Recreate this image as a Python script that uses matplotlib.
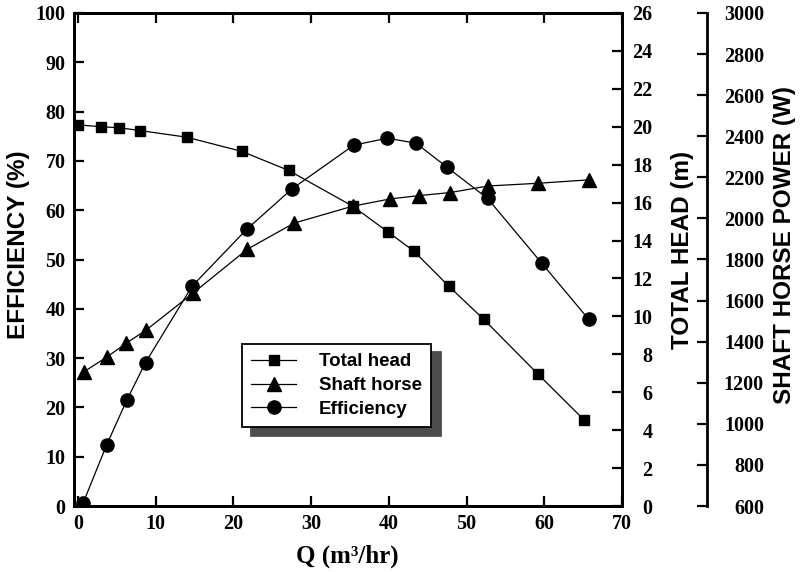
import matplotlib
matplotlib.use("Agg")
import matplotlib.pyplot as plt
from matplotlib.font_manager import FontProperties

# Data
q_head = [0, 3.0, 5.3, 8.0, 14.0, 21.1, 27.1, 35.4, 39.9, 43.2, 47.7, 52.2, 59.2, 65.1]
total_head = [20.1, 20.0, 19.95, 19.8, 19.45, 18.7, 17.7, 15.8, 14.45, 13.45, 11.6, 9.85, 6.95, 4.55]

q_power = [0.8, 3.8, 6.2, 8.8, 14.8, 21.8, 27.8, 35.4, 40.2, 43.9, 47.9, 52.8, 59.2, 65.8]
shaft_power = [1254, 1327, 1392, 1457, 1636, 1850, 1977, 2060, 2095, 2111, 2126, 2158, 2171, 2188]

q_eff = [0.7, 3.7, 6.3, 8.7, 14.7, 21.7, 27.6, 35.5, 39.8, 43.5, 47.5, 52.7, 59.7, 65.7]
efficiency = [0.7, 12.4, 21.5, 29.1, 44.6, 56.1, 64.4, 73.2, 74.6, 73.6, 68.7, 62.4, 49.2, 37.9]

serif = "Liberation Serif"
sans = "Liberation Sans"
tick_font = FontProperties(family=serif, weight="bold", size=14.5)
label_kw = dict(family=sans, weight="bold", size=17.5, va="center", ha="center")

fig = plt.figure(figsize=(8.01, 5.72), dpi=100)
ax = fig.add_axes([74 / 801, 1 - 506 / 572, 548 / 801, 493 / 572])
ax2 = ax.twinx()
ax3 = ax.twinx()
ax3.spines["right"].set_position(("axes", (707 - 74) / 548))

# Efficiency axis (left)
l3, = ax.plot(q_eff, efficiency, color="black", lw=0.9, marker="o", ms=9.5, label="Efficiency")
ax.set_xlim(-0.5, 70)
ax.set_ylim(0, 100)
ax.set_xticks(range(0, 71, 10))
ax.set_yticks(range(0, 101, 10))
ax.set_ylabel("EFFICIENCY (%)", **label_kw)
ax.yaxis.set_label_coords(-0.102, 0.53)
ax.set_xlabel("Q (m³/hr)", family=serif, weight="bold", size=18, va="center")
ax.xaxis.set_label_coords(0.498, -0.103)
ax.tick_params(axis="both", direction="in", length=7, width=1.6, top=True, pad=6)

# Total head axis (right)
l1, = ax2.plot(q_head, total_head, color="black", lw=0.9, marker="s", ms=7.5, label="Total head")
ax2.set_ylim(0, 26)
ax2.set_yticks(range(0, 27, 2))
ax2.set_ylabel("TOTAL HEAD (m)", **label_kw)
ax2.yaxis.set_label_coords(1.11, 0.52)
ax2.tick_params(axis="y", direction="in", length=7, width=1.6, pad=22)

# Shaft horse power axis (outer right)
l2, = ax3.plot(q_power, shaft_power, color="black", lw=0.9, marker="^", ms=9.5, label="Shaft horse")
ax3.set_ylim(600, 3000)
ax3.set_yticks(range(600, 3001, 200))
ax3.set_ylabel("SHAFT HORSE POWER (W)", **label_kw)
ax3.yaxis.set_label_coords(1.297, 0.53)
ax3.tick_params(axis="y", direction="in", length=7, width=1.6, pad=41)

for a in (ax, ax2, ax3):
    for s in a.spines.values():
        s.set_linewidth(2)
    for lab in a.get_xticklabels() + a.get_yticklabels():
        lab.set_fontproperties(tick_font)
for lab in ax2.get_yticklabels() + ax3.get_yticklabels():
    lab.set_horizontalalignment("right")

leg = ax3.legend(handles=[l1, l2, l3], loc="upper left",
                 bbox_to_anchor=(241.7 / 801, 1 - 344 / 572), bbox_transform=fig.transFigure,
                 prop={"family": sans, "weight": "bold", "size": 13.5},
                 fancybox=False, framealpha=1, edgecolor="black",
                 shadow={"ox": 7, "oy": -6, "color": "0.3", "alpha": 1},
                 handlelength=2.4, handletextpad=1.2, labelspacing=0.35,
                 borderpad=0.5, borderaxespad=0)
leg.get_frame().set_linewidth(1.3)

fig.savefig("out.png", dpi=100)
